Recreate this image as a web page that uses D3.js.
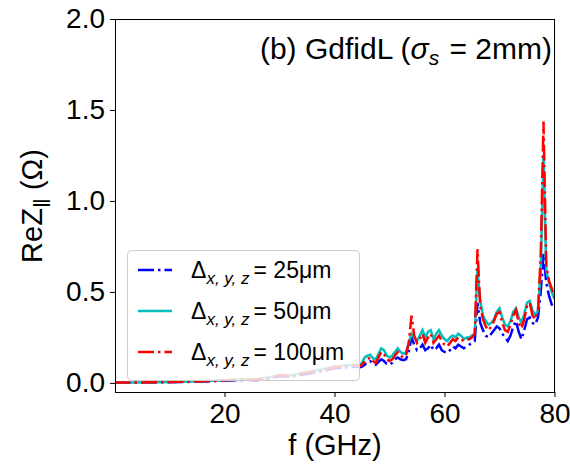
<!DOCTYPE html>
<html>
<head>
<meta charset="utf-8">
<script src="https://cdn.jsdelivr.net/npm/d3@7"></script>
<style>
  body { margin: 0; background: #fff; }
  text { font-family: "Liberation Sans", Arial, sans-serif; fill: #000; }
</style>
</head>
<body>
<svg id="chart" width="570" height="468"></svg>
<script>
// frequency grid (GHz)
const freq = [0, 2, 4, 6, 8, 10, 12, 14, 16, 18, 20, 22, 24, 26, 28, 30, 32, 34, 36, 38, 40, 42,
  44, 44.5, 45, 45.5, 46, 46.5, 47, 47.5, 48, 48.5, 49, 49.5, 50, 50.5, 51, 51.5, 52, 52.5,
  53, 53.5, 54, 54.5, 55, 55.5, 56, 56.5, 57, 57.5, 58, 58.5, 59, 59.5, 60, 60.5, 61, 61.5,
  62, 62.5, 63, 63.5, 64, 64.5, 65, 65.5, 66, 66.5, 67, 67.5, 68, 68.5, 69, 69.5, 70, 70.5,
  71, 71.5, 72, 72.5, 73, 73.5, 74, 74.5, 75, 75.5, 76, 76.5, 77, 77.5, 78, 78.5, 79, 79.5, 80];

// Re Z (Ohm), mesh 25 um
const z25 = [0.001, 0.001, 0.002, 0.002, 0.003, 0.004, 0.005, 0.006, 0.008, 0.010, 0.012, 0.014, 0.017, 0.016, 0.024, 0.036, 0.033, 0.045, 0.055, 0.065, 0.080, 0.085,
  0.09, 0.085, 0.09, 0.10, 0.115, 0.12, 0.105, 0.10, 0.115, 0.13, 0.12, 0.105, 0.10, 0.11, 0.13, 0.14, 0.13, 0.125,
  0.13, 0.17, 0.25, 0.21, 0.18, 0.19, 0.21, 0.18, 0.19, 0.21, 0.18, 0.19, 0.21, 0.18, 0.17, 0.165, 0.18, 0.20,
  0.19, 0.21, 0.20, 0.19, 0.20, 0.21, 0.22, 0.23, 0.44, 0.33, 0.29, 0.26, 0.25, 0.27, 0.29, 0.31, 0.30, 0.27,
  0.25, 0.23, 0.26, 0.31, 0.34, 0.28, 0.24, 0.29, 0.35, 0.36, 0.33, 0.32, 0.36, 0.50, 0.71, 0.55, 0.48, 0.43, 0.42];

// mesh 50 um
const z50 = [0.002, 0.002, 0.002, 0.003, 0.004, 0.005, 0.006, 0.008, 0.010, 0.012, 0.015, 0.018, 0.022, 0.020, 0.030, 0.045, 0.040, 0.055, 0.065, 0.075, 0.090, 0.095,
  0.10, 0.095, 0.11, 0.14, 0.15, 0.155, 0.135, 0.13, 0.16, 0.19, 0.18, 0.15, 0.14, 0.15, 0.17, 0.19, 0.17, 0.16,
  0.17, 0.22, 0.27, 0.25, 0.23, 0.26, 0.29, 0.25, 0.28, 0.29, 0.24, 0.27, 0.29, 0.26, 0.24, 0.23, 0.25, 0.26,
  0.25, 0.27, 0.26, 0.24, 0.25, 0.25, 0.26, 0.27, 0.62, 0.45, 0.37, 0.34, 0.32, 0.33, 0.35, 0.39, 0.41, 0.36,
  0.32, 0.31, 0.34, 0.39, 0.41, 0.36, 0.33, 0.38, 0.44, 0.45, 0.40, 0.37, 0.40, 0.62, 1.25, 0.62, 0.55, 0.50, 0.46];

// mesh 100 um
const z100 = [0.002, 0.002, 0.002, 0.003, 0.004, 0.005, 0.006, 0.007, 0.009, 0.011, 0.014, 0.017, 0.020, 0.019, 0.028, 0.042, 0.038, 0.052, 0.062, 0.072, 0.086, 0.092,
  0.10, 0.09, 0.10, 0.12, 0.13, 0.14, 0.12, 0.11, 0.14, 0.17, 0.16, 0.13, 0.12, 0.13, 0.15, 0.17, 0.15, 0.14,
  0.15, 0.22, 0.37, 0.26, 0.22, 0.24, 0.27, 0.22, 0.25, 0.27, 0.22, 0.24, 0.26, 0.23, 0.21, 0.20, 0.22, 0.24,
  0.23, 0.25, 0.24, 0.23, 0.24, 0.24, 0.25, 0.27, 0.735, 0.42, 0.35, 0.31, 0.29, 0.31, 0.34, 0.38, 0.39, 0.33,
  0.29, 0.28, 0.32, 0.37, 0.40, 0.33, 0.30, 0.35, 0.42, 0.44, 0.37, 0.35, 0.40, 0.70, 1.436, 0.65, 0.56, 0.52, 0.47];

const meshLabels = ["25μm", "50μm", "100μm"];
const xTicks = [20, 40, 60, 80];
const yTicks = [0.0, 0.5, 1.0, 1.5, 2.0];

const series = [
  { label: meshLabels[0], values: z25, color: "#0000ff", dash: "16,4,2.5,4" },
  { label: meshLabels[1], values: z50, color: "#00bfbf", dash: null },
  { label: meshLabels[2], values: z100, color: "#ff0000", dash: "16,4,2.5,4" }
];

const svg = d3.select("#chart");
const plot = { left: 115, right: 555, top: 19, bottom: 392 };

const x = d3.scaleLinear().domain([0, 80]).range([114.5, 554.5]);
const y = d3.scaleLinear().domain([-0.05, 2.0]).range([plot.bottom, plot.top]);

svg.append("clipPath").attr("id", "clip")
  .append("rect")
  .attr("x", plot.left).attr("y", plot.top)
  .attr("width", plot.right - plot.left).attr("height", plot.bottom - plot.top);

// curves
const line = d3.line()
  .x((d, i) => x(freq[i]))
  .y(d => y(d));

const g = svg.append("g").attr("clip-path", "url(#clip)");
series.forEach(s => {
  g.append("path")
    .datum(s.values)
    .attr("d", line)
    .attr("fill", "none")
    .attr("stroke", s.color)
    .attr("stroke-width", 2.5)
    .attr("stroke-dasharray", s.dash);
});

// axes
const xAxis = d3.axisBottom(x).tickValues(xTicks).tickSize(5).tickPadding(6).tickFormat(d3.format("d"));
const yAxis = d3.axisLeft(y).tickValues(yTicks).tickSize(5).tickPadding(5).tickFormat(d3.format(".1f"));

svg.append("g")
  .attr("transform", `translate(0,${plot.bottom})`)
  .call(xAxis)
  .call(a => a.select(".domain").remove())
  .selectAll("text").attr("font-size", 28).style("font-family", "Liberation Sans, Arial, sans-serif");

svg.append("g")
  .attr("transform", `translate(${plot.left},0)`)
  .call(yAxis)
  .call(a => a.select(".domain").remove())
  .selectAll("text").attr("font-size", 28).style("font-family", "Liberation Sans, Arial, sans-serif");

svg.append("rect")
  .attr("x", plot.left + 0.5).attr("y", plot.top + 0.5)
  .attr("width", plot.right - plot.left - 1).attr("height", plot.bottom - plot.top)
  .attr("fill", "none").attr("stroke", "#000").attr("stroke-width", 1);

// axis labels
svg.append("text")
  .attr("x", (plot.left + plot.right) / 2).attr("y", 455)
  .attr("text-anchor", "middle").attr("font-size", 29)
  .text("f (GHz)");

const yl = svg.append("text")
  .attr("transform", "translate(42,206) rotate(-90)")
  .attr("text-anchor", "middle").attr("font-size", 29);
yl.append("tspan").text("ReZ");
yl.append("tspan").attr("dy", 8).attr("font-size", 24).text("‖");
yl.append("tspan").attr("dy", -8).text(" (Ω)");

// title
const tt = svg.append("text")
  .attr("x", 552).attr("y", 59)
  .attr("text-anchor", "end").attr("font-size", 30);
tt.append("tspan").text("(b) GdfidL (");
tt.append("tspan").attr("font-style", "italic").text("σ");
tt.append("tspan").attr("font-style", "italic").attr("font-size", 21).attr("dy", 6).text("s");
tt.append("tspan").attr("dy", -6).attr("dx", 2).text(" = 2mm)");

// legend
const leg = svg.append("g");
leg.append("rect")
  .attr("x", 127.5).attr("y", 250.5).attr("width", 232).attr("height", 130).attr("rx", 4)
  .attr("fill", "#fff").attr("fill-opacity", 0.8)
  .attr("stroke", "#cccccc").attr("stroke-width", 1);

series.forEach((s, i) => {
  const yy = 270 + i * 41;
  leg.append("line")
    .attr("x1", 138).attr("x2", 172).attr("y1", yy).attr("y2", yy)
    .attr("stroke", s.color).attr("stroke-width", 2.5)
    .attr("stroke-dasharray", s.dash);
  const t = leg.append("text").attr("x", 191).attr("y", yy + 8).attr("font-size", 23);
  t.append("tspan").text("Δ");
  t.append("tspan").attr("font-style", "italic").attr("font-size", 17).attr("dy", 6).text("x, y, z");
  t.append("tspan").attr("dy", -6).attr("dx", 4).text("= " + s.label);
});
</script>
</body>
</html>
